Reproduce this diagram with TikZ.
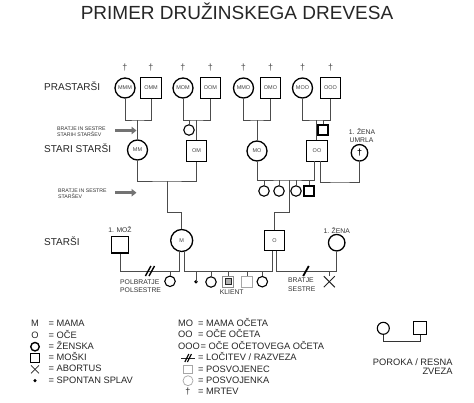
\documentclass[tikz,border=0pt]{standalone}
\usepackage{fontspec}
\setmainfont{Liberation Sans}
\usetikzlibrary{arrows.meta}
\begin{document}
\begin{tikzpicture}[x=1pt,y=-1pt,
  conn/.style={draw=black!70, line width=0.75pt},
  fem/.style={circle, draw=black, line width=1.3pt, minimum size=20pt, inner sep=0pt, font=\fontsize{5.5}{6}\selectfont, text=black!75},
  mal/.style={rectangle, draw=black, line width=1.3pt, minimum size=20.5pt, inner sep=0pt, font=\fontsize{5.5}{6}\selectfont, text=black!75},
  kid/.style={circle, draw=black, line width=1.1pt, minimum size=10.5pt, inner sep=0pt},
  kidm/.style={rectangle, draw=black, line width=1.1pt, minimum size=10pt, inner sep=0pt},
  dead/.style={font=\fontsize{9}{9}\selectfont, text=black!70, inner sep=0pt},
  rowlab/.style={font=\fontsize{10}{12}\selectfont, text=black!85, anchor=mid west, inner sep=0pt},
  lab/.style={font=\fontsize{6.8}{8}\selectfont, text=black!80, inner sep=0pt, anchor=mid},
  labw/.style={font=\fontsize{6.8}{8}\selectfont, text=black!80, inner sep=0pt, anchor=mid west},
  tinyl/.style={font=\fontsize{5.2}{6}\selectfont, text=black!80, inner sep=0pt, anchor=mid west},
  leg/.style={font=\fontsize{9.3}{11}\selectfont, text=black!85, anchor=mid west, inner sep=0pt},
  legc/.style={font=\fontsize{9.3}{11}\selectfont, text=black!85, anchor=mid, inner sep=0pt},
  sib/.style={line width=3pt, draw=black!55, -{Triangle[length=5pt,width=7.5pt]}},
  divs/.style={draw=black, line width=1.4pt},
]
\fill[white] (0,0) rectangle (474,402);
\useasboundingbox (0,0) rectangle (474,402);

% title
\node[font=\fontsize{19}{22}\selectfont, text=black!85, anchor=base, inner sep=0pt] (title) at (237,19.5) {PRIMER DRUŽINSKEGA DREVESA};

% row labels
\node[rowlab] (rl1) at (44,88) {PRASTARŠI};
\node[rowlab] (rl2) at (44,150) {STARI STARŠI};
\node[rowlab] (rl3) at (44,243) {STARŠI};

% great-grandparents
\node[fem] (MMM) at (125,88) {MMM};
\node[mal] (OMM) at (151,88) {OMM};
\node[fem] (MOM) at (183,88) {MOM};
\node[mal] (OOM) at (210.5,88) {OOM};
\node[fem] (MMO) at (243.5,88) {MMO};
\node[mal] (OMO) at (270.5,88) {OMO};
\node[fem] (MOO) at (302.5,88) {MOO};
\node[mal] (OOO) at (330.5,88) {OOO};
\foreach \n/\xx in {d1/125,d2/151,d3/183,d4/210.5,d5/243.5,d6/270.5,d7/302.5,d8/330.5}
  \node[dead] (\n) at (\xx,68) {†};

% grandparents
\node[fem] (MM) at (137.5,150) {MM};
\node[mal] (OM) at (196.5,151) {OM};
\node[fem] (MO) at (257,151) {MO};
\node[mal] (OO) at (317,151) {OO};
\node[kid] (sc1) at (189,130) {};
\node[kidm] (sq1) at (323,130) {};
\node[lab] (umt1) at (362,131.7) {1. ŽENA};
\node[lab] (umt2) at (361.5,140.3) {UMRLA};
\node[circle, draw=black, line width=1.3pt, minimum size=16.5pt, inner sep=0pt, font=\fontsize{9}{9}\selectfont\bfseries] (UM) at (359.5,152.8) {†};

% couple lines great-grandparents
\coordinate (jA) at (137.5,120);
\coordinate (jB) at (196.5,120);
\coordinate (jC) at (257,120);
\coordinate (jD) at (316,120);
\draw[conn] (MMM.south) |- (jA) -| (OMM.south);
\draw[conn] (jA) -- (MM.north);
\draw[conn] (MOM.south) |- (jB) -| (OOM.south);
\draw[conn] (jB) -- (OM.north);
\draw[conn] (sc1.north) -- (sc1.north |- jB);
\draw[conn] (MMO.south) |- (jC) -| (OMO.south);
\draw[conn] (jC) -- (MO.north);
\draw[conn] (MOO.south) |- (jD) -| (OOO.south);
\draw[conn] (jD) -- (OO.north -| jD);
\draw[conn] (sq1.north) -- (sq1.north |- jD);

% arrows siblings
\node[tinyl] (bt1) at (57,128.3) {BRATJE IN SESTRE};
\node[tinyl] (bt2) at (57,134.3) {STARIH STARŠEV};
\node[tinyl] (bt3) at (58,189.5) {BRATJE IN SESTRE};
\node[tinyl] (bt4) at (58,196) {STARŠEV};
\coordinate (a1s) at (115,130.5);
\coordinate (a1e) at (136.5,130.5);
\coordinate (a2s) at (115,192.7);
\coordinate (a2e) at (136.5,192.7);
\draw[sib] (a1s) -- (a1e);
\draw[sib] (a2s) -- (a2e);

% parents
\node[fem, minimum size=22pt] (M) at (181.7,240.5) {M};
\node[mal] (O) at (274.5,240.5) {O};
\node[lab] (mozt) at (120,230.3) {1. MOŽ};
\node[rectangle, draw=black, line width=1.3pt, minimum size=16.5pt, inner sep=0pt] (MOZ) at (120,244.7) {};
\node[lab] (zent) at (336.7,230.7) {1. ŽENA};
\node[circle, draw=black, line width=1.3pt, minimum size=16.5pt, inner sep=0pt] (Z1) at (336.7,242.7) {};

% grandparents couple lines
\coordinate (jS1) at (167,181);
\coordinate (jS2) at (181.7,212);
\draw[conn] (MM.south) |- (jS1) -| (OM.south);
\draw[conn] (jS1) -- (jS1 |- jS2) -- (jS2) -- (M.north);
\coordinate (OOl) at (314,161);
\coordinate (OOr) at (320,161);
\coordinate (jT1) at (289,180);
\coordinate (jT2) at (274.5,212.5);
\coordinate (jT3) at (340,182);
\draw[conn] (MO.south) |- (jT1) -- (OOl |- jT1) -- (OOl);
\draw[conn] (OOr) |- (jT3) -| (UM.south);
\draw[conn] (jT1) -- (jT1 |- jT2) -- (jT2) -- (O.north);
\node[kid] (c1) at (264,191) {};
\node[kid] (c2) at (279,191) {};
\node[kid] (c3) at (296,191) {};
\node[kidm] (s1) at (309,191) {};
\foreach \k in {c1,c2,c3,s1} \draw[conn] (\k.north) -- (\k.north |- jT1);

% parents lines
\coordinate (Ml) at (179,250.5);
\coordinate (Mr) at (184,250.5);
\coordinate (Ol) at (272.5,250.5);
\coordinate (Or) at (276.8,250.5);
\coordinate (jL) at (179,271);
\coordinate (jM1) at (184,271);
\coordinate (jM2) at (272.5,271);
\coordinate (jR) at (276.8,271);
\draw[conn] (MOZ.south) |- (jL) -- (Ml);
\draw[conn] (Mr) -- (jM1) -- (jM2) -- (Ol);
\draw[conn] (Or) -- (jR) -| (Z1.south);

% divorce marks
\coordinate (div1) at (150,271);
\coordinate (div2) at (306,271);
\draw[divs] (div1) ++(-4.6,5) -- ++(5.5,-10);
\draw[divs] (div1) ++(-1,5) -- ++(5.5,-10);
\draw[divs, line width=1.8pt] (div2) ++(-2.8,5) -- ++(5.6,-10);

% children
\node[kid] (hs) at (170,281.3) {};
\draw[conn] (hs.north) -- (hs.north |- jL);
\node[labw] (pb1) at (120,281.7) {POLBRATJE};
\node[labw] (pb2) at (120,290.2) {POLSESTRE};

\node[circle, fill=black, minimum size=3.6pt, inner sep=0pt] (sp) at (196,281.7) {};
\draw[conn] (sp.center) -- (sp.center |- jM1);
\node[kid] (k1) at (211,282) {};
\draw[conn] (k1.north) -- (k1.north |- jM1);
\node[rectangle, draw=black!45, line width=0.9pt, minimum size=11pt, inner sep=0pt] (cl) at (228.3,281.5) {};
\node[rectangle, draw=black!85, fill=black!30, line width=1pt, minimum size=6pt, inner sep=0pt] (cli) at (228.3,281.5) {};
\draw[conn] (cl.north) -- (cl.north |- jM1);
\node[lab] (klt) at (231.7,291.9) {KLIENT};
\node[rectangle, draw=black!35, line width=0.8pt, minimum size=11pt, inner sep=0pt] (ad) at (247.3,281.7) {};
\draw[conn] (ad.north) -- (ad.north |- jM1);
\node[kid] (k2) at (262.3,281.7) {};
\draw[conn] (k2.north) -- (k2.north |- jM1);

\node[labw] (bs1) at (288,280.2) {BRATJE};
\node[labw] (bs2) at (288,288.8) {SESTRE};
\coordinate (ab) at (329.3,281.7);
\coordinate (abt) at (329.3,276);
\draw[conn] (abt) -- (abt |- jR);
\draw[black!85, line width=1pt] (ab) ++(-5.5,-5.5) -- ++(11,11);
\draw[black!85, line width=1pt] (ab) ++(-5.5,5.5) -- ++(11,-11);

% legend left
\node[legc] (lM) at (35,324) {M};
\node[leg] (lMt) at (48.5,324) {= MAMA};
\node[legc] (lO) at (35,335.4) {O};
\node[leg] (lOt) at (48.5,335.4) {= OČE};
\node[circle, draw=black, line width=1.4pt, minimum size=8.5pt, inner sep=0pt] (lF) at (35,346.7) {};
\node[leg] (lFt) at (48.5,346.7) {= ŽENSKA};
\node[rectangle, draw=black, line width=1.4pt, minimum size=8.5pt, inner sep=0pt] (lS) at (35,358) {};
\node[leg] (lSt) at (48.5,358) {= MOŠKI};
\coordinate (lX) at (35,369.3);
\draw[black!85, line width=0.7pt] (lX) ++(-4,-4) -- ++(8,8);
\draw[black!85, line width=0.7pt] (lX) ++(-4,4) -- ++(8,-8);
\node[leg] (lXt) at (48.5,369.3) {= ABORTUS};
\node[circle, fill=black, minimum size=3.4pt, inner sep=0pt] (lD) at (35,380.6) {};
\node[leg] (lDt) at (48.5,380.6) {= SPONTAN SPLAV};

% legend middle
\node[leg] (rMO) at (178,324) {MO};
\node[leg] (rMOt) at (198,324) {= MAMA OČETA};
\node[leg] (rOO) at (178,335.3) {OO};
\node[leg] (rOOt) at (198,335.3) {= OČE OČETA};
\node[leg] (rOOO) at (178,346.7) {OOO};
\node[leg] (rOOOt) at (200.5,346.7) {= OČE OČETOVEGA OČETA};
\coordinate (rDv) at (188,358);
\draw[black!85, line width=0.7pt] (rDv) ++(-7,0) -- ++(14,0);
\draw[divs, line width=1.1pt] (rDv) ++(-3.2,4) -- ++(4,-8);
\draw[divs, line width=1.1pt] (rDv) ++(-0.6,4) -- ++(4,-8);
\node[leg] (rDvt) at (198,358) {= LOČITEV / RAZVEZA};
\node[rectangle, draw=black!35, line width=0.7pt, minimum size=8.5pt, inner sep=0pt] (rAs) at (188,369.4) {};
\node[leg] (rAst) at (198,369.4) {= POSVOJENEC};
\node[circle, draw=black!35, line width=0.7pt, minimum size=10pt, inner sep=0pt] (rAc) at (188,380.7) {};
\node[leg] (rAct) at (198,380.7) {= POSVOJENKA};
\node[legc, font=\fontsize{9}{9}\selectfont] (rDd) at (188,392) {†};
\node[leg] (rDdt) at (198,392) {= MRTEV};

% legend right: marriage
\node[circle, draw=black, line width=1.1pt, minimum size=12pt, inner sep=0pt] (pc) at (383.3,328.3) {};
\node[rectangle, draw=black, line width=1.1pt, minimum size=13pt, inner sep=0pt] (ps) at (420,328.3) {};
\coordinate (pj) at (401.6,341.7);
\draw[black!80, line width=0.75pt] (pc.south) |- (pj) -| (ps.south);
\node[leg, anchor=mid east] (pt1) at (452.7,362.7) {POROKA / RESNA};
\node[leg, anchor=mid east] (pt2) at (452.7,371.8) {ZVEZA};
\end{tikzpicture}
\end{document}
